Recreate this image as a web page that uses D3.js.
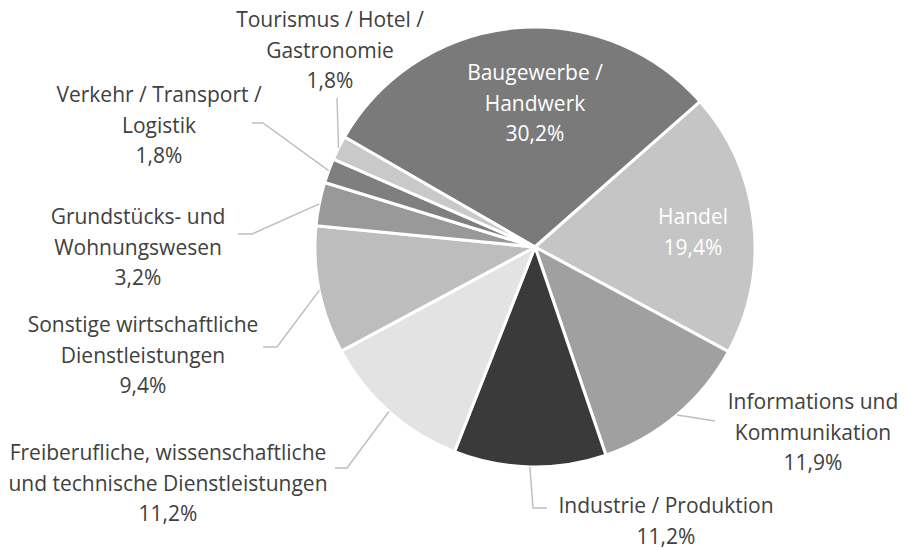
<!DOCTYPE html>
<html>
<head>
<meta charset="utf-8">
<script src="https://cdn.jsdelivr.net/npm/d3@7"></script>
<style>
  body { margin: 0; background: #fff; }
  svg text { font-family: "Open Sans", "Noto Sans", sans-serif; font-size: 21px; }
</style>
</head>
<body>
<div id="chart"></div>
<script>
var categories = [
    "Baugewerbe / Handwerk",
    "Handel",
    "Informations und Kommunikation",
    "Industrie / Produktion",
    "Freiberufliche, wissenschaftliche und technische Dienstleistungen",
    "Sonstige wirtschaftliche Dienstleistungen",
    "Grundstücks- und Wohnungswesen",
    "Verkehr / Transport / Logistik",
    "Tourismus / Hotel / Gastronomie"
];
var values = [30.2, 19.4, 11.9, 11.2, 11.2, 9.4, 3.2, 1.8, 1.8];
var labelLines = [
    ["Baugewerbe /", "Handwerk"],
    ["Handel"],
    ["Informations und", "Kommunikation"],
    ["Industrie / Produktion"],
    ["Freiberufliche, wissenschaftliche", "und technische Dienstleistungen"],
    ["Sonstige wirtschaftliche", "Dienstleistungen"],
    ["Grundstücks- und", "Wohnungswesen"],
    ["Verkehr / Transport /", "Logistik"],
    ["Tourismus / Hotel /", "Gastronomie"]
];

var width = 904, height = 548;
var cx = 535, cy = 247, radius = 220;
var lineHeight = 30.5;

var colors = ["#7a7a7a", "#c4c5c4", "#a0a0a0", "#3a3a3a", "#e2e3e2",
              "#bcbdbc", "#999999", "#7f7f7f", "#c8c9c8"];

// label layout: x = text centre, y = first baseline, inside = white text on slice,
// elbow = where the leader line meets the label
var layout = [
    { x: 535, y: 80, inside: true },
    { x: 693, y: 224, inside: true },
    { x: 813, y: 409, elbow: [[715, 421], [715, 421]] },
    { x: 666, y: 513, elbow: [[533, 508], [547, 508]] },
    { x: 168, y: 460, elbow: [[347, 468], [335, 468]] },
    { x: 143, y: 332, elbow: [[277, 347], [263, 347]] },
    { x: 138, y: 224, elbow: [[252, 234], [238, 234]] },
    { x: 159, y: 102, elbow: [[263, 123], [252, 123]] },
    { x: 330, y: 27, elbow: [[337, 98], [337, 98]] }
];

var svg = d3.select("#chart").append("svg")
    .attr("width", width)
    .attr("height", height);

var startDeg = -60;
var pie = d3.pie()
    .sort(null)
    .startAngle(startDeg * Math.PI / 180)
    .endAngle((360 + startDeg) * Math.PI / 180)
    .value(function(d) { return d; });

var arcs = pie(values);

var arc = d3.arc().innerRadius(0).outerRadius(radius);
var edge = d3.arc().innerRadius(radius).outerRadius(radius);

var g = svg.append("g").attr("transform", "translate(" + cx + "," + cy + ")");

g.selectAll("path.slice")
    .data(arcs)
    .enter().append("path")
    .attr("class", "slice")
    .attr("d", arc)
    .attr("fill", function(d, i) { return colors[i]; })
    .attr("stroke", "#fff")
    .attr("stroke-width", 3)
    .attr("stroke-linejoin", "round");

// leader lines
svg.selectAll("path.leader")
    .data(arcs.filter(function(d, i) { return !layout[i].inside; }))
    .enter().append("path")
    .attr("class", "leader")
    .attr("fill", "none")
    .attr("stroke", "#bfbfbf")
    .attr("stroke-width", 1.5)
    .attr("d", function(d) {
        var p = edge.centroid(d);
        var el = layout[d.index].elbow;
        return "M" + (cx + p[0]) + "," + (cy + p[1]) + "L" + el[0][0] + "," + el[0][1] + "L" + el[1][0] + "," + el[1][1];
    });

// labels
var fmt = function(v) { return v.toFixed(1).replace(".", ",") + "%"; };

var label = svg.selectAll("text.label")
    .data(arcs)
    .enter().append("text")
    .attr("class", "label")
    .attr("text-anchor", "middle")
    .attr("fill", function(d) { return layout[d.index].inside ? "#ffffff" : "#404040"; })
    .attr("transform", function(d) {
        var l = layout[d.index];
        return "translate(" + l.x + "," + l.y + ")";
    });

label.each(function(d) {
    var t = d3.select(this);
    var lines = labelLines[d.index].concat([fmt(values[d.index])]);
    lines.forEach(function(s, k) {
        t.append("tspan").attr("x", 0).attr("y", k * lineHeight).text(s);
    });
});
</script>
</body>
</html>
